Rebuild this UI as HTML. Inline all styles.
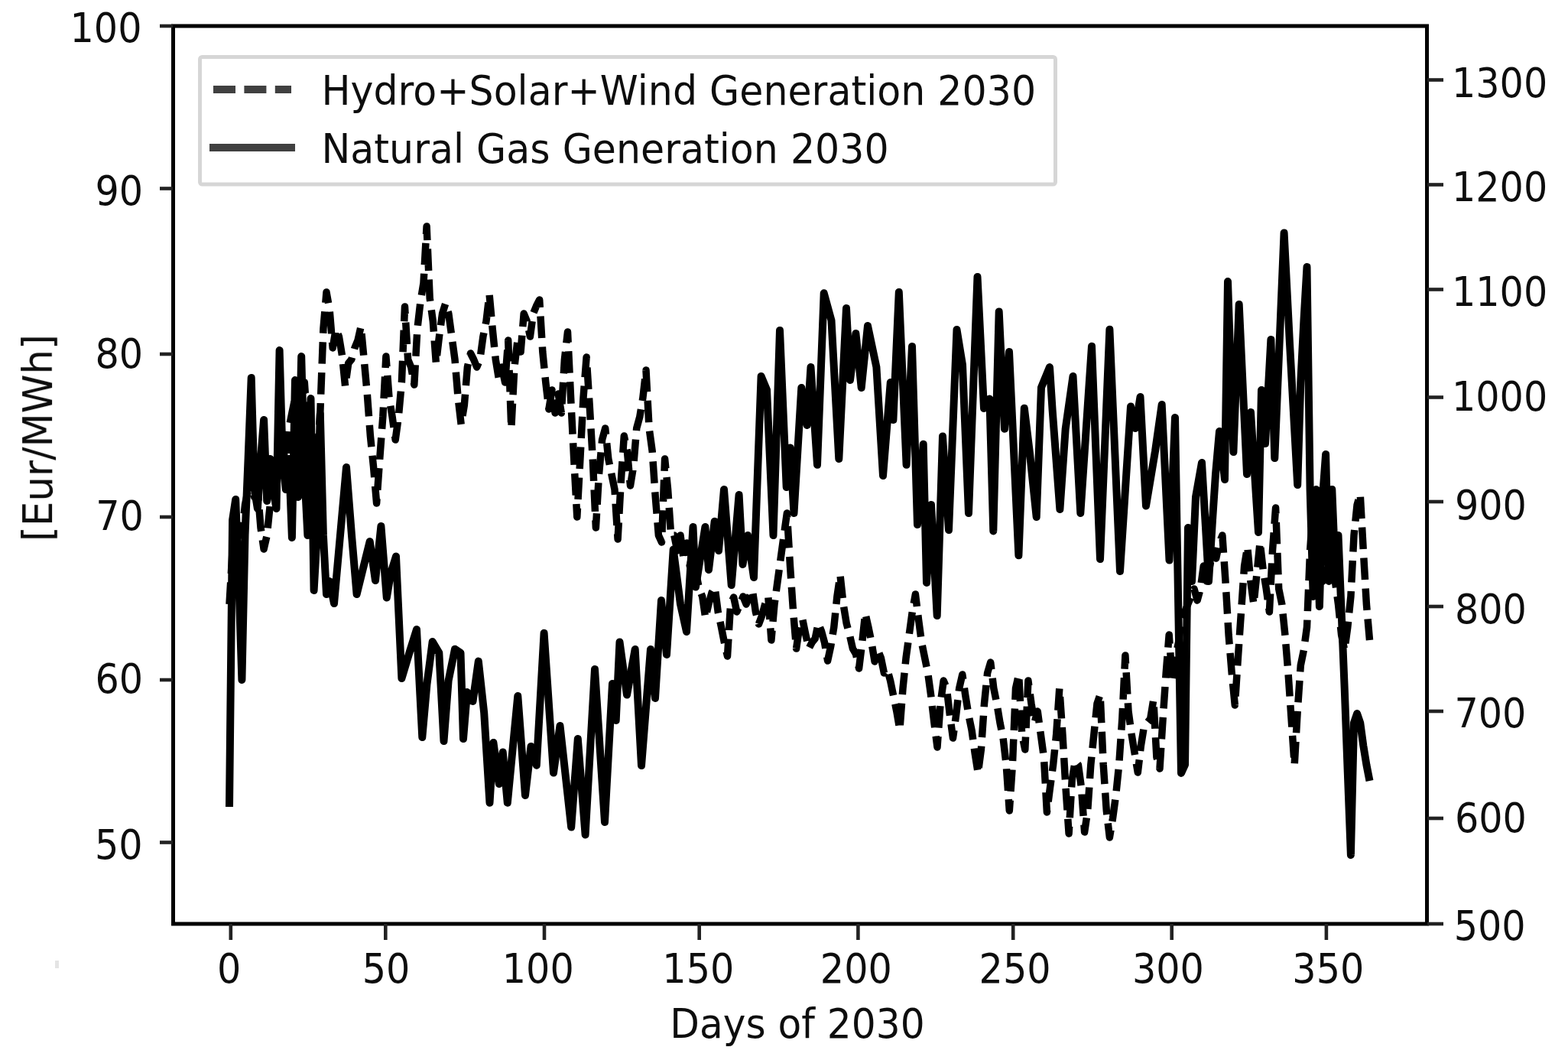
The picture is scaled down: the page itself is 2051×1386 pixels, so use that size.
<!DOCTYPE html><html><head><meta charset="utf-8"><style>html,body{margin:0;padding:0;background:#fff;overflow:hidden}svg{display:block}</style></head><body><svg width="2051" height="1386" viewBox="0 0 2051 1386">
<rect width="2051" height="1386" fill="#fff"/>
<defs><filter id="b" x="-2%" y="-2%" width="104%" height="104%"><feGaussianBlur stdDeviation="0.5"/></filter></defs><g filter="url(#b)">
<rect x="72" y="1256" width="5" height="10" fill="#e4e4e4"/>
<g fill="none" stroke="#000" stroke-linejoin="round" stroke-linecap="butt">
<path d="M300.0 790.0 L304.1 720.0 L308.2 700.0 L312.3 680.0 L316.4 700.0 L320.5 660.0 L324.6 640.0 L328.7 620.0 L332.8 650.0 L336.9 640.0 L341.0 690.0 L345.1 718.0 L349.2 700.0 L353.3 660.0 L357.4 640.0 L361.5 620.0 L365.6 600.0 L369.7 580.0 L373.8 610.0 L377.9 560.0 L381.9 540.0 L386.0 520.0 L390.1 560.0 L394.2 540.0 L398.3 500.0 L402.4 560.0 L406.5 590.0 L410.6 620.0 L414.7 600.0 L418.8 540.0 L422.9 430.0 L427.0 382.0 L431.1 405.0 L435.2 455.0 L439.3 430.0 L443.4 440.0 L447.5 465.0 L451.6 505.0 L455.7 475.0 L459.8 470.0 L463.9 455.0 L468.0 445.0 L472.1 427.0 L476.2 470.0 L480.3 515.0 L484.4 570.0 L488.5 610.0 L492.6 658.0 L496.7 600.0 L500.8 545.0 L504.9 466.0 L509.0 520.0 L513.1 545.0 L517.2 575.0 L521.3 545.0 L525.4 500.0 L529.5 401.0 L533.6 470.0 L537.7 480.0 L541.8 503.0 L545.9 430.0 L549.9 395.0 L554.0 370.0 L558.1 296.0 L562.2 390.0 L566.3 420.0 L570.4 475.0 L574.5 440.0 L578.6 410.0 L582.7 397.0 L586.8 410.0 L590.9 440.0 L595.0 470.0 L599.1 520.0 L603.2 555.0 L607.3 530.0 L611.4 480.0 L615.5 462.0 L619.6 470.0 L623.7 480.0 L627.8 470.0 L631.9 440.0 L636.0 420.0 L640.1 385.0 L644.2 430.0 L648.3 470.0 L652.4 495.0 L656.5 480.0 L660.6 500.0 L664.7 445.0 L668.8 560.0 L672.9 480.0 L677.0 445.0 L681.1 460.0 L685.2 410.0 L689.3 420.0 L693.4 440.0 L697.5 410.0 L701.6 400.0 L705.7 392.0 L709.8 460.0 L713.8 500.0 L717.9 535.0 L722.0 510.0 L726.1 540.0 L730.2 515.0 L734.3 540.0 L738.4 470.0 L742.5 434.0 L746.6 520.0 L750.7 600.0 L754.8 676.0 L758.9 600.0 L763.0 520.0 L767.1 467.0 L771.2 530.0 L775.3 600.0 L779.4 690.0 L783.5 620.0 L787.6 575.0 L791.7 560.0 L795.8 600.0 L799.9 620.0 L804.0 640.0 L808.1 705.0 L812.2 630.0 L816.3 570.0 L820.4 590.0 L824.5 635.0 L828.6 610.0 L832.7 560.0 L836.8 545.0 L840.9 520.0 L845.0 484.0 L849.1 560.0 L853.2 590.0 L857.3 650.0 L861.4 700.0 L865.5 709.0 L869.6 600.0 L873.6 640.0 L877.7 700.0 L881.8 700.0 L885.9 720.0 L890.0 700.0 L894.1 730.0 L898.2 710.0 L902.3 740.0 L906.4 720.0 L910.5 750.0 L914.6 770.0 L918.7 780.0 L922.8 808.0 L926.9 790.0 L931.0 775.0 L935.1 768.0 L939.2 800.0 L943.3 819.0 L947.4 840.0 L951.5 858.0 L955.6 790.0 L959.7 781.0 L963.8 800.0 L967.9 790.0 L972.0 780.0 L976.1 790.0 L980.2 780.0 L984.3 772.0 L988.4 800.0 L992.5 816.0 L996.6 805.0 L1000.7 790.0 L1004.8 780.0 L1008.9 837.0 L1013.0 790.0 L1017.1 760.0 L1021.2 730.0 L1025.3 700.0 L1029.4 671.0 L1033.5 740.0 L1037.6 800.0 L1041.6 848.0 L1045.7 820.0 L1049.8 810.0 L1053.9 830.0 L1058.0 848.0 L1062.1 840.0 L1066.2 835.0 L1070.3 815.0 L1074.4 825.0 L1078.5 840.0 L1082.6 864.0 L1086.7 845.0 L1090.8 820.0 L1094.9 780.0 L1099.0 752.0 L1103.1 790.0 L1107.2 815.0 L1111.3 830.0 L1115.4 848.0 L1119.5 855.0 L1123.6 874.0 L1127.7 840.0 L1131.8 802.0 L1135.9 820.0 L1140.0 840.0 L1144.1 865.0 L1148.2 850.0 L1152.3 860.0 L1156.4 880.0 L1160.5 875.0 L1164.6 890.0 L1168.7 910.0 L1172.8 930.0 L1176.9 954.0 L1181.0 900.0 L1185.1 860.0 L1189.2 830.0 L1193.3 800.0 L1197.4 777.0 L1201.5 810.0 L1205.5 840.0 L1209.6 860.0 L1213.7 880.0 L1217.8 910.0 L1221.9 945.0 L1226.0 977.0 L1230.1 920.0 L1234.2 890.0 L1238.3 900.0 L1242.4 935.0 L1246.5 965.0 L1250.6 935.0 L1254.7 900.0 L1258.8 882.0 L1262.9 910.0 L1267.0 935.0 L1271.1 955.0 L1275.2 985.0 L1279.3 1011.0 L1283.4 980.0 L1287.5 920.0 L1291.6 880.0 L1295.7 866.0 L1299.8 900.0 L1303.9 920.0 L1308.0 945.0 L1312.1 965.0 L1316.2 1000.0 L1320.3 1060.0 L1324.4 1000.0 L1328.5 900.0 L1332.6 882.0 L1336.7 960.0 L1340.8 980.0 L1344.9 890.0 L1349.0 920.0 L1353.1 945.0 L1357.2 930.0 L1361.3 960.0 L1365.4 990.0 L1369.4 1062.0 L1373.5 1030.0 L1377.6 1000.0 L1381.7 960.0 L1385.8 900.0 L1389.9 960.0 L1394.0 1030.0 L1398.1 1090.0 L1402.2 1020.0 L1406.3 995.0 L1410.4 1000.0 L1414.5 1030.0 L1418.6 1088.0 L1422.7 1060.0 L1426.8 1000.0 L1430.9 960.0 L1435.0 920.0 L1439.1 908.0 L1443.2 1000.0 L1447.3 1060.0 L1451.4 1095.0 L1455.5 1070.0 L1459.6 1040.0 L1463.7 1000.0 L1467.8 940.0 L1471.9 857.0 L1476.0 930.0 L1480.1 960.0 L1484.2 985.0 L1488.3 1010.0 L1492.4 975.0 L1496.5 950.0 L1500.6 945.0 L1504.7 940.0 L1508.8 915.0 L1512.9 990.0 L1517.0 1005.0 L1521.1 940.0 L1525.2 880.0 L1529.2 830.0 L1533.3 890.0 L1537.4 860.0 L1541.5 840.0 L1545.6 810.0 L1549.7 800.0 L1553.8 790.0 L1557.9 780.0 L1562.0 770.0 L1566.1 785.0 L1570.2 770.0 L1574.3 740.0 L1578.4 760.0 L1582.5 740.0 L1586.6 720.0 L1590.7 730.0 L1594.8 710.0 L1598.9 700.0 L1603.0 760.0 L1607.1 830.0 L1611.2 880.0 L1615.3 922.0 L1619.4 860.0 L1623.5 800.0 L1627.6 740.0 L1631.7 715.0 L1635.8 760.0 L1639.9 790.0 L1644.0 750.0 L1648.1 709.0 L1652.2 745.0 L1656.3 770.0 L1660.4 800.0 L1664.5 720.0 L1668.6 664.0 L1672.7 770.0 L1676.8 790.0 L1680.9 830.0 L1685.0 880.0 L1689.1 940.0 L1693.2 1000.0 L1697.2 930.0 L1701.3 870.0 L1705.4 850.0 L1709.5 820.0 L1713.6 720.0 L1717.7 660.0 L1721.8 760.0 L1725.9 650.0 L1730.0 760.0 L1734.1 660.0 L1738.2 740.0 L1742.3 680.0 L1746.4 760.0 L1750.5 790.0 L1754.6 830.0 L1758.7 850.0 L1762.8 820.0 L1766.9 780.0 L1771.0 700.0 L1775.1 660.0 L1779.2 646.0 L1783.3 720.0 L1787.4 790.0 L1791.5 837.0" stroke-width="9.5" stroke-dasharray="28.5 11.5"/>
<path d="M300.0 1055.0 L304.1 680.0 L308.2 653.0 L312.3 760.0 L316.4 889.0 L320.5 700.0 L324.6 600.0 L328.7 494.0 L332.8 640.0 L336.9 665.0 L341.0 600.0 L345.1 549.0 L349.2 655.0 L353.3 600.0 L357.4 640.0 L361.5 665.0 L365.6 458.0 L369.7 600.0 L373.8 640.0 L377.9 600.0 L381.9 703.0 L386.0 497.0 L390.1 650.0 L394.2 466.0 L398.3 620.0 L402.4 700.0 L406.5 521.0 L410.6 772.0 L414.7 700.0 L418.8 541.0 L422.9 700.0 L427.0 777.0 L431.1 760.0 L437.0 789.0 L445.0 700.0 L453.0 611.0 L460.0 700.0 L466.6 777.0 L474.0 747.0 L483.7 708.0 L491.0 759.0 L498.4 688.0 L505.8 781.5 L511.0 750.0 L518.0 727.5 L525.4 887.0 L535.0 855.0 L545.0 823.0 L552.3 964.0 L558.4 895.0 L565.7 839.0 L574.3 853.6 L580.5 969.0 L586.6 890.0 L595.0 848.7 L602.5 853.6 L606.0 966.0 L611.0 905.0 L618.5 917.0 L625.8 864.6 L633.2 932.0 L640.5 1049.7 L645.4 971.0 L652.8 1025.0 L657.7 983.5 L663.8 1049.7 L677.3 910.0 L687.0 1040.0 L694.5 976.0 L701.8 1000.7 L711.6 827.8 L724.0 1010.5 L732.5 949.0 L747.2 1081.6 L755.8 966.0 L765.6 1091.4 L778.0 875.0 L791.0 1075.0 L801.0 894.0 L805.7 942.0 L810.5 839.5 L820.0 908.6 L830.7 849.0 L839.0 1001.0 L851.0 849.0 L857.0 913.0 L865.0 785.0 L872.0 856.0 L880.7 718.5 L890.0 790.0 L898.0 826.0 L906.5 689.0 L910.0 767.5 L922.4 689.0 L927.0 745.0 L934.7 681.7 L940.0 720.0 L947.0 640.0 L956.7 765.0 L966.6 647.0 L971.5 738.0 L978.0 700.0 L986.0 755.0 L995.6 492.0 L1003.0 509.6 L1011.5 700.0 L1020.0 432.0 L1028.7 637.0 L1033.6 585.6 L1038.5 671.0 L1048.3 507.0 L1055.6 556.0 L1060.5 480.0 L1069.0 607.7 L1077.7 383.3 L1087.5 419.0 L1097.3 600.0 L1107.0 403.0 L1112.0 497.0 L1119.4 436.0 L1126.7 507.0 L1135.0 426.0 L1146.4 480.0 L1155.0 622.0 L1164.8 500.0 L1168.4 549.0 L1175.8 382.0 L1185.6 607.7 L1193.0 453.0 L1200.0 686.0 L1207.7 580.7 L1212.0 762.0 L1218.0 660.0 L1225.7 805.0 L1233.0 570.5 L1241.0 693.0 L1251.5 431.0 L1259.0 477.0 L1267.0 671.0 L1278.5 362.0 L1287.0 534.0 L1294.4 521.5 L1299.3 694.4 L1306.7 407.4 L1314.0 560.7 L1320.0 460.0 L1332.4 726.3 L1339.8 533.7 L1347.0 592.6 L1355.7 676.0 L1362.0 506.7 L1373.0 480.0 L1376.6 536.0 L1386.4 666.0 L1393.7 560.7 L1403.5 492.0 L1413.3 671.0 L1428.0 452.8 L1439.0 731.0 L1451.4 430.7 L1465.0 747.0 L1479.0 531.5 L1485.0 560.0 L1491.5 519.0 L1499.0 661.5 L1511.0 590.0 L1519.7 529.0 L1529.5 732.6 L1537.0 546.0 L1545.0 1011.0 L1550.0 1000.0 L1554.0 690.0 L1559.0 760.0 L1564.0 650.0 L1572.0 605.0 L1577.0 690.0 L1581.0 760.0 L1586.0 680.0 L1590.0 620.0 L1595.0 564.0 L1602.0 627.0 L1606.0 368.0 L1613.4 591.0 L1620.7 398.0 L1631.0 620.0 L1636.0 539.0 L1646.0 696.0 L1650.0 510.0 L1655.0 580.0 L1662.4 444.0 L1667.3 599.0 L1679.6 304.5 L1687.0 449.0 L1697.2 634.0 L1701.3 500.0 L1705.4 420.0 L1709.5 349.0 L1713.6 640.0 L1717.7 780.0 L1721.8 640.0 L1725.9 793.0 L1730.0 650.0 L1734.1 594.0 L1738.2 760.0 L1742.3 640.0 L1746.4 740.0 L1750.5 700.0 L1754.6 800.0 L1758.7 900.0 L1762.8 1010.0 L1766.9 1118.0 L1771.0 945.0 L1775.1 933.0 L1779.2 945.0 L1783.3 975.0 L1787.4 1000.0 L1791.5 1021.0" stroke-width="10.0"/>
</g>
<g stroke="#000" stroke-width="5" fill="none" stroke-linecap="square">
<path d="M226.5 34 H1866.5 V1208 H226.5 Z"/>
</g>
<g stroke="#222" stroke-width="4.6">
<line x1="209" y1="34.0" x2="226" y2="34.0"/>
<line x1="209" y1="246.5" x2="226" y2="246.5"/>
<line x1="209" y1="463.0" x2="226" y2="463.0"/>
<line x1="209" y1="676.0" x2="226" y2="676.0"/>
<line x1="209" y1="889.0" x2="226" y2="889.0"/>
<line x1="209" y1="1101.5" x2="226" y2="1101.5"/>
<line x1="1867" y1="104.5" x2="1888" y2="104.5"/>
<line x1="1867" y1="241.5" x2="1888" y2="241.5"/>
<line x1="1867" y1="378.5" x2="1888" y2="378.5"/>
<line x1="1867" y1="519.5" x2="1888" y2="519.5"/>
<line x1="1867" y1="656.0" x2="1888" y2="656.0"/>
<line x1="1867" y1="793.0" x2="1888" y2="793.0"/>
<line x1="1867" y1="930.0" x2="1888" y2="930.0"/>
<line x1="1867" y1="1070.0" x2="1888" y2="1070.0"/>
<line x1="1867" y1="1208.0" x2="1888" y2="1208.0"/>
<line x1="301.8" y1="1208" x2="301.8" y2="1229"/>
<line x1="504.3" y1="1208" x2="504.3" y2="1229"/>
<line x1="712.0" y1="1208" x2="712.0" y2="1229"/>
<line x1="914.7" y1="1208" x2="914.7" y2="1229"/>
<line x1="1122.4" y1="1208" x2="1122.4" y2="1229"/>
<line x1="1325.2" y1="1208" x2="1325.2" y2="1229"/>
<line x1="1532.7" y1="1208" x2="1532.7" y2="1229"/>
<line x1="1734.9" y1="1208" x2="1734.9" y2="1229"/>
</g>
<rect x="261.5" y="74.5" width="1119" height="166.5" rx="3" fill="#fff" fill-opacity="0.8" stroke="#d6d6d6" stroke-width="5"/>
<line x1="279" y1="117" x2="381" y2="117" stroke="#404040" stroke-width="10" stroke-dasharray="29 11.4"/>
<line x1="274" y1="193" x2="386" y2="193" stroke="#404040" stroke-width="10"/>
<g fill="#111" font-size="50" font-family="DejaVu Sans, Liberation Sans, sans-serif">
<text transform="matrix(0.985 0 0 1.06 91.48 55.33)">100</text>
<text transform="matrix(0.985 0 0 1.06 124.42 268.38)">90</text>
<text transform="matrix(0.985 0 0 1.06 124.42 480.58)">80</text>
<text transform="matrix(0.985 0 0 1.06 125.13 693.03)">70</text>
<text transform="matrix(0.985 0 0 1.06 124.42 906.03)">60</text>
<text transform="matrix(0.985 0 0 1.06 123.93 1122.88)">50</text>
<text transform="matrix(0.985 0 0 1.06 1898.97 126.58)">1300</text>
<text transform="matrix(0.985 0 0 1.06 1898.97 263.23)">1200</text>
<text transform="matrix(0.985 0 0 1.06 1898.97 400.28)">1100</text>
<text transform="matrix(0.985 0 0 1.06 1898.97 537.28)">1000</text>
<text transform="matrix(0.985 0 0 1.06 1902.91 678.58)">900</text>
<text transform="matrix(0.985 0 0 1.06 1902.91 815.13)">800</text>
<text transform="matrix(0.985 0 0 1.06 1902.42 951.23)">700</text>
<text transform="matrix(0.985 0 0 1.06 1902.91 1087.53)">600</text>
<text transform="matrix(0.985 0 0 1.06 1901.72 1229.08)">500</text>
<text transform="matrix(0.985 0 0 1.06 283.99 1285.38)">0</text>
<text transform="matrix(0.985 0 0 1.06 473.68 1285.38)">50</text>
<text transform="matrix(0.985 0 0 1.06 656.73 1285.38)">100</text>
<text transform="matrix(0.985 0 0 1.06 866.33 1285.38)">150</text>
<text transform="matrix(0.985 0 0 1.06 1072.86 1285.38)">200</text>
<text transform="matrix(0.985 0 0 1.06 1280.56 1285.38)">250</text>
<text transform="matrix(0.985 0 0 1.06 1480.92 1285.38)">300</text>
<text transform="matrix(0.985 0 0 1.06 1690.32 1285.38)">350</text>
<text transform="matrix(1.0043 0 0 1.06 876.28 1356.99)">Days of 2030</text>
<text transform="matrix(1.0122 0 0 1.06 420.44 137.09)">Hydro+Solar+Wind Generation 2030</text>
<text transform="matrix(1.0117 0 0 1.06 420.44 212.71)">Natural Gas Generation 2030</text>
<text transform="matrix(0 -1.0273 1.06 0 67.98 708.11)">[Eur/MWh]</text>
</g>
</g>
</svg></body></html>
